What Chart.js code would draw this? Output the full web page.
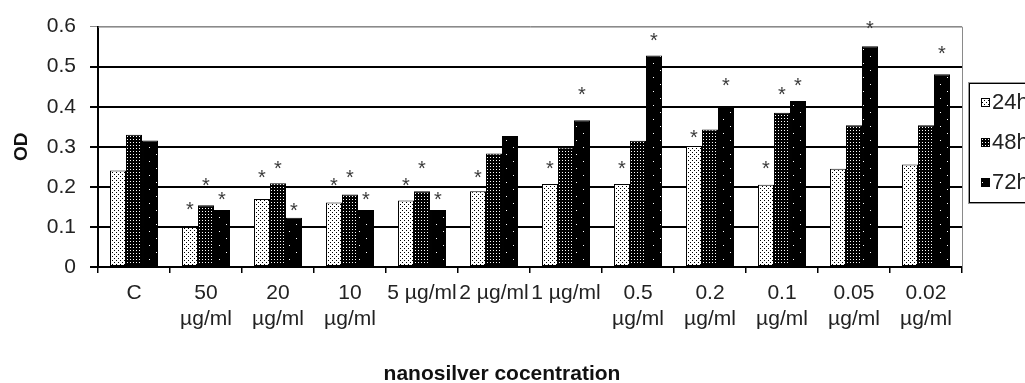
<!DOCTYPE html>
<html>
<head>
<meta charset="utf-8">
<script src="https://cdn.jsdelivr.net/npm/chart.js@4.4.1/dist/chart.umd.min.js"></script>
<style>
  html, body { margin: 0; padding: 0; background: #fff; overflow: hidden; }
  #wrap { width: 1025px; height: 383px; position: relative; }
</style>
</head>
<body>
<div id="wrap"><canvas id="chart"></canvas></div>
<script>
const categories = [
  "C", ["50", "µg/ml"], ["20", "µg/ml"], ["10", "µg/ml"], "5 µg/ml", "2 µg/ml", "1 µg/ml",
  ["0.5", "µg/ml"], ["0.2", "µg/ml"], ["0.1", "µg/ml"], ["0.05", "µg/ml"], ["0.02", "µg/ml"]
];
const seriesLabels = ["24h", "48h", "72h"];
const od24 = [0.241, 0.100, 0.170, 0.161, 0.166, 0.189, 0.207, 0.207, 0.302, 0.205, 0.245, 0.256];
const od48 = [0.330, 0.154, 0.209, 0.181, 0.189, 0.283, 0.298, 0.315, 0.343, 0.385, 0.354, 0.354];
const od72 = [0.316, 0.142, 0.123, 0.142, 0.142, 0.327, 0.366, 0.528, 0.400, 0.414, 0.551, 0.481];

// height (OD units) of the significance asterisk above each bar, null = none
const star24 = [null, 0.147, 0.226, 0.206, 0.206, 0.226, 0.248, 0.248, 0.327, 0.248, null, null];
const star48 = [null, 0.206, 0.248, 0.226, 0.248, null, null, null, null, 0.433, null, null];
const star72 = [null, 0.172, 0.144, 0.172, 0.172, null, 0.433, 0.567, 0.456, 0.456, 0.599, 0.535];

const yTicks = [0, 0.1, 0.2, 0.3, 0.4, 0.5, 0.6];
const xTitle = "nanosilver cocentration";
const yTitle = "OD";

const FONT = "'Liberation Sans', Arial, sans-serif";

function makePattern(w, h, bg, fg, dots) {
  const c = document.createElement("canvas");
  c.width = w;
  c.height = h;
  const g = c.getContext("2d");
  g.fillStyle = bg;
  g.fillRect(0, 0, w, h);
  g.fillStyle = fg;
  dots.forEach(([x, y, dw, dh]) => g.fillRect(x, y, dw || 1, dh || 1));
  return g.createPattern(c, "repeat");
}

const fill24 = makePattern(4, 4, "#ffffff", "#000000", [[0, 0], [2, 2]]);
const fill48 = makePattern(3, 3, "#000000", "#ffffff", [[1, 1]]);
const fill72 = makePattern(14, 14, "#000000", "#ffffff", [[2, 0], [9, 7]]);
const fills = [fill24, fill48, fill72];
const stars = [star24, star48, star72];

const plotFrame = {
  id: "plotFrame",
  beforeDatasetsDraw(chart) {
    const { ctx, chartArea } = chart;
    ctx.save();
    ctx.strokeStyle = "#8a8a8a";
    ctx.lineWidth = 1;
    ctx.beginPath();
    ctx.moveTo(chartArea.left, chartArea.top + 0.5);
    ctx.lineTo(chartArea.right + 0.5, chartArea.top + 0.5);
    ctx.lineTo(chartArea.right + 0.5, chartArea.bottom);
    ctx.stroke();
    ctx.restore();
  }
};

const asterisks = {
  id: "asterisks",
  afterDatasetsDraw(chart) {
    const { ctx } = chart;
    const y = chart.scales.y;
    const size = 20;
    ctx.save();
    ctx.font = `${size}px ${FONT}`;
    ctx.fillStyle = "#3a3a3a";
    ctx.textAlign = "center";
    ctx.textBaseline = "alphabetic";
    stars.forEach((list, d) => {
      const meta = chart.getDatasetMeta(d);
      list.forEach((v, i) => {
        if (v == null) return;
        ctx.fillText("*", meta.data[i].x, y.getPixelForValue(v) + size * 0.38);
      });
    });
    ctx.restore();
  }
};

const boxedLegend = {
  id: "boxedLegend",
  afterDraw(chart) {
    const { ctx, chartArea } = chart;
    const left = chartArea.right + 7;
    const top = 83;
    const h = 120;
    ctx.save();
    ctx.strokeStyle = "#999";
    ctx.lineWidth = 1;
    ctx.strokeRect(left - 0.5, top - 0.5, 200, h + 1);
    ctx.strokeStyle = "#000";
    ctx.strokeRect(left + 0.5, top + 0.5, 200, h - 1);
    ctx.font = `22px ${FONT}`;
    ctx.textBaseline = "middle";
    ctx.textAlign = "left";
    seriesLabels.forEach((label, i) => {
      const cy = top + 19 + i * 40;
      ctx.fillStyle = fills[i];
      ctx.fillRect(left + 12, cy - 4, 9, 9);
      ctx.strokeStyle = "#000";
      ctx.strokeRect(left + 12.5, cy - 3.5, 8, 8);
      ctx.fillStyle = "#222";
      ctx.fillText(label, left + 23, cy + 1);
    });
    ctx.restore();
  }
};

const xCaption = {
  id: "xCaption",
  afterDraw(chart) {
    const { ctx, chartArea } = chart;
    ctx.save();
    ctx.font = `bold 21px ${FONT}`;
    ctx.fillStyle = "#111";
    ctx.textAlign = "center";
    ctx.textBaseline = "alphabetic";
    ctx.fillText(xTitle, (chartArea.left + chartArea.right) / 2 - 28, chart.height - 3);
    ctx.restore();
  }
};

new Chart(document.getElementById("chart"), {
  type: "bar",
  data: {
    labels: categories,
    datasets: [od24, od48, od72].map((data, i) => ({
      label: seriesLabels[i],
      data,
      backgroundColor: fills[i],
      borderColor: "#000",
      borderWidth: 1,
      borderSkipped: false,
      categoryPercentage: 0.667,
      barPercentage: 1
    }))
  },
  options: {
    responsive: true,
    maintainAspectRatio: false,
    animation: false,
    devicePixelRatio: 1,
    layout: { padding: { top: 23, right: 63, left: 0, bottom: 0 } },
    plugins: {
      legend: { display: false },
      tooltip: { enabled: false }
    },
    scales: {
      x: {
        afterFit: (scale) => { scale.height = 116; },
        grid: {
          drawOnChartArea: false,
          drawTicks: true,
          tickLength: 6,
          color: "#000",
          lineWidth: 1.5
        },
        border: { color: "#000", width: 2 },
        ticks: {
          color: "#222",
          font: { family: FONT, size: 21 },
          maxRotation: 0,
          minRotation: 0,
          autoSkip: false,
          padding: 8
        }
      },
      y: {
        min: 0,
        max: 0.6,
        afterFit: (scale) => { scale.width = 98; },
        afterBuildTicks: (scale) => { scale.ticks = yTicks.map((v) => ({ value: v })); },
        grid: {
          color: (c) => (c.tick && c.tick.value === 0.6 ? "#8a8a8a" : "#000"),
          lineWidth: (c) => (c.tick && c.tick.value === 0.6 ? 1 : 2),
          tickLength: 8
        },
        border: { color: "#000", width: 2 },
        ticks: {
          color: "#222",
          font: { family: FONT, size: 21 },
          padding: 14,
          callback: (v) => String(+Number(v).toFixed(1))
        },
        title: {
          display: true,
          text: yTitle,
          color: "#111",
          font: { family: FONT, size: 19, weight: "bold" },
          padding: { top: 10, bottom: 0 }
        }
      }
    }
  },
  plugins: [plotFrame, asterisks, boxedLegend, xCaption]
});
</script>
</body>
</html>
